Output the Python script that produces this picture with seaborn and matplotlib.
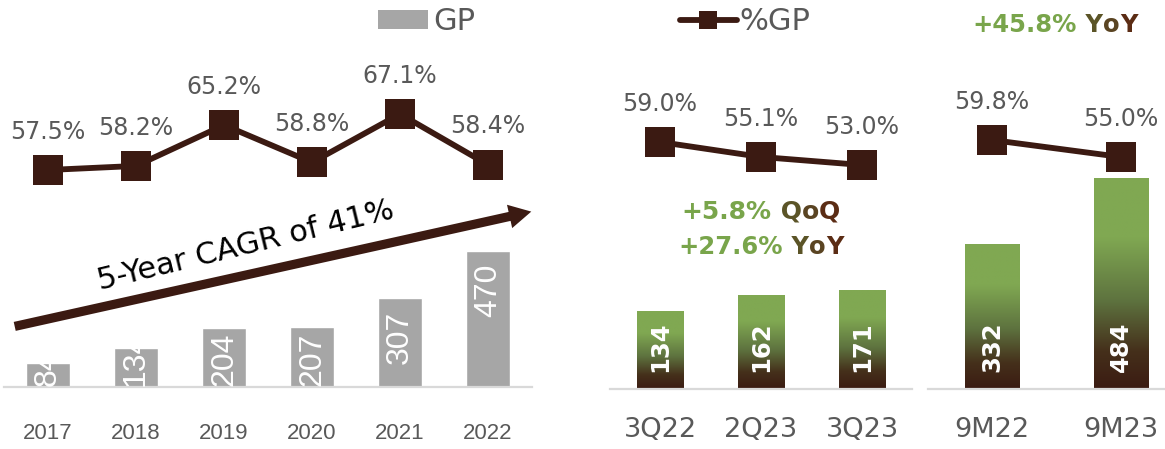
import numpy as np
import pandas as pd
import matplotlib
matplotlib.use("Agg")
import matplotlib.pyplot as plt
import seaborn as sns
from matplotlib.colors import LinearSegmentedColormap
from matplotlib.patches import Patch, FancyArrowPatch
from matplotlib.lines import Line2D
from matplotlib.transforms import IdentityTransform

# ---------------------------------------------------------------- data
years = ["2017", "2018", "2019", "2020", "2021", "2022"]
gp_annual = [84, 134, 204, 207, 307, 470]
gp_margin_annual = [57.5, 58.2, 65.2, 58.8, 67.1, 58.4]

quarters = ["3Q22", "2Q23", "3Q23"]
gp_quarter = [134, 162, 171]
gp_margin_quarter = [59.0, 55.1, 53.0]

periods = ["9M22", "9M23"]
gp_9m = [332, 484]
gp_margin_9m = [59.8, 55.0]

cagr_label = "5-Year CAGR of 41%"
qoq_label = ["+5.8%", " Q", "o", "Q"]
yoy_q_label = ["+27.6%", " Y", "o", "Y"]
yoy_9m_label = ["+45.8%", " Y", "o", "Y"]

# ---------------------------------------------------------------- style
BROWN = "#3B1A12"
GRAY_BAR = "#A6A6A6"
TEXT_GRAY = "#595959"
AXIS_GRAY = "#D9D9D9"
GREEN = "#79A54B"
TAG_COLORS = ["#5B5427", "#5A4422", "#5B2C14"]

sns.set_style("white")
plt.rcParams["font.family"] = ["DejaVu Sans"]

W, H = 1165, 449
fig = plt.figure(figsize=(W / 100, H / 100), dpi=100)

green_cmap = LinearSegmentedColormap.from_list(
    "gp_fill",
    [(0.0, "#3B1B12"), (0.18, "#45301B"), (0.42, "#5E733F"),
     (0.72, "#80A852"), (1.0, "#80A852")],
)


def px_axes(x0, x1, top, bottom):
    """Axes placed by pixel edges (top/bottom measured from the top)."""
    return fig.add_axes([x0 / W, 1 - bottom / H, (x1 - x0) / W, (bottom - top) / H])


def span_limits(v_lo, p_lo, v_hi, p_hi, height_px):
    """Limits that put v_lo / v_hi at p_lo / p_hi pixels above the axes bottom."""
    scale = (p_hi - p_lo) / (v_hi - v_lo)
    lo = v_lo - p_lo / scale
    return lo, lo + height_px / scale


def panel(ax, cats, gp, margin, bar_width, bar_lim, line_lim, gradient,
          tick_pad, tick_size, tick_family):
    n = len(cats)
    df = pd.DataFrame({"period": cats, "gp": gp, "margin": margin})
    sns.barplot(data=df, x="period", y="gp", ax=ax, color=GRAY_BAR,
                width=bar_width, saturation=1, errorbar=None, zorder=2)
    ax.set_ylim(*bar_lim)
    ax.set_xlim(-0.5, n - 0.5)

    if gradient:
        ramp = np.linspace(0, 1, 256).reshape(-1, 1)
        for p in ax.patches:
            x0, w, h = p.get_x(), p.get_width(), p.get_height()
            ax.imshow(ramp, cmap=green_cmap, extent=(x0, x0 + w, 0, h),
                      origin="lower", aspect="auto", interpolation="bilinear",
                      zorder=2.5, vmin=0, vmax=1)
        ax.set_ylim(*bar_lim)
        ax.set_xlim(-0.5, n - 0.5)

    for side in ["left", "right", "top"]:
        ax.spines[side].set_visible(False)
    ax.spines["bottom"].set_color(AXIS_GRAY)
    ax.spines["bottom"].set_linewidth(1.6)
    ax.set_yticks([])
    ax.set_xlabel("")
    ax.set_ylabel("")
    ax.tick_params(axis="x", length=0, pad=tick_pad, labelsize=tick_size,
                   labelcolor=TEXT_GRAY, labelfontfamily=tick_family)

    ax2 = ax.twinx()
    sns.pointplot(data=df, x="period", y="margin", ax=ax2, color=BROWN,
                  markers="s", markersize=21, linewidth=4.2,
                  markeredgewidth=0, errorbar=None)
    ax2.set_ylim(*line_lim)
    ax2.set_xlim(-0.5, n - 0.5)
    ax2.set_yticks([])
    ax2.set_ylabel("")
    ax2.set_xlabel("")
    for side in ax2.spines:
        ax2.spines[side].set_visible(False)
    for i, m in enumerate(margin):
        ax2.annotate(f"{m:.1f}%", xy=(i, m), xytext=(0, 19),
                     textcoords="offset points", ha="center", va="bottom",
                     fontsize=17, color=TEXT_GRAY)
    return ax2


# ---------------------------------------------------------------- annual panel
ax_a = px_axes(4, 532, 30, 387)
panel(ax_a, years, gp_annual, gp_margin_annual, 0.5,
      (0, 470 * 357 / 136), span_limits(57.5, 217, 67.1, 273, 357),
      gradient=False, tick_pad=26, tick_size=16, tick_family="Liberation Sans")

# ---------------------------------------------------------------- quarterly panel
ax_q = px_axes(609.5, 912.5, 30, 389)
panel(ax_q, quarters, gp_quarter, gp_margin_quarter, 0.46,
      (0, 171 * 359 / 99), span_limits(53.0, 224, 59.0, 247, 359),
      gradient=True, tick_pad=20, tick_size=19.5, tick_family="DejaVu Sans")

# ---------------------------------------------------------------- nine-month panel
ax_m = px_axes(927.5, 1185.5, 30, 389)
panel(ax_m, periods, gp_9m, gp_margin_9m, 0.42,
      (0, 484 * 359 / 210), span_limits(55.0, 232, 59.8, 249, 359),
      gradient=True, tick_pad=20, tick_size=19.5, tick_family="DejaVu Sans")

renderer = fig.canvas.get_renderer()

# value labels inside the grey bars: near the top, or from the base when the bar is short
for i, (v, p) in enumerate(zip(gp_annual, ax_a.patches)):
    t = ax_a.annotate(str(v), xy=(i, v), xytext=(0, -9), textcoords="offset points",
                      rotation=90, ha="center", va="top", color="white",
                      fontsize=23, family="Liberation Sans", zorder=4)
    base = ax_a.transData.transform((i, 0))[1]
    if t.get_window_extent(renderer).y0 < base + 2:
        t.remove()
        t = ax_a.annotate(str(v), xy=(i, 0), xytext=(0, 1), textcoords="offset points",
                          rotation=90, ha="center", va="bottom", color="white",
                          fontsize=23, family="Liberation Sans", zorder=4)
    t.set_clip_on(True)
    t.set_clip_path(p)

# value labels inside the gradient bars, from the base
for ax, vals in [(ax_q, gp_quarter), (ax_m, gp_9m)]:
    for i, v in enumerate(vals):
        ax.annotate(str(v), xy=(i, 0), xytext=(0, 12), textcoords="offset points",
                    rotation=90, ha="center", va="bottom", color="white",
                    fontsize=17.5, fontweight="bold", zorder=4)

# ---------------------------------------------------------------- legends
fig.legend(handles=[Patch(facecolor=GRAY_BAR, edgecolor="none", label="GP")],
           loc="center left", bbox_to_anchor=(378 / W, 1 - 22 / H),
           frameon=False, fontsize=22, labelcolor=TEXT_GRAY,
           handlelength=1.65, handleheight=0.56, handletextpad=0.16,
           borderpad=0, borderaxespad=0)
fig.legend(handles=[Line2D([], [], color=BROWN, lw=4.2, marker="s",
                           markersize=13, markeredgewidth=0, label="%GP")],
           loc="center left", bbox_to_anchor=(680 / W, 1 - 22 / H),
           frameon=False, fontsize=22, labelcolor=TEXT_GRAY,
           handlelength=1.85, handletextpad=0.1,
           borderpad=0, borderaxespad=0)

# ---------------------------------------------------------------- growth arrow
arrow = FancyArrowPatch((12, H - 327), (534, H - 211), transform=IdentityTransform(),
                        arrowstyle="simple,head_length=0.8,head_width=0.86,tail_width=0.33",
                        mutation_scale=20, color=BROWN, lw=0, zorder=5)
fig.add_artist(arrow)
fig.text(246, H - 246, cagr_label, transform=IdentityTransform(), rotation=13.7,
         rotation_mode="anchor", ha="center", va="center", fontsize=22, color="black")


# ---------------------------------------------------------------- growth tags
def growth_tag(cx, cy, pieces, size):
    colors = [GREEN] + TAG_COLORS
    texts = [fig.text(0, 0, s, transform=IdentityTransform(), color=c, fontsize=size,
                      fontweight="bold", ha="left", va="center")
             for s, c in zip(pieces, colors)]
    widths = [t.get_window_extent(renderer).width for t in texts]
    x = cx - sum(widths) / 2
    for t, w in zip(texts, widths):
        t.set_position((x, H - cy))
        x += w


growth_tag(761, 212, qoq_label, 18)
growth_tag(761, 247, yoy_q_label, 17.5)
growth_tag(1055, 25, yoy_9m_label, 17.5)

fig.savefig("out.png", dpi=100)
